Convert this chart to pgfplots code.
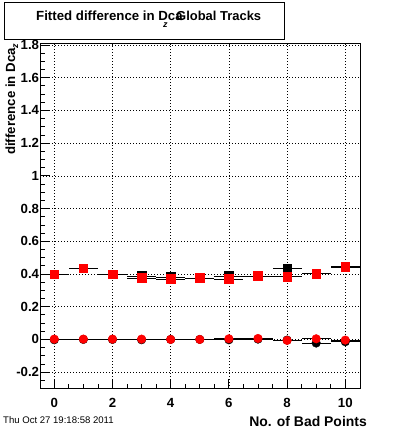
\documentclass[border=0pt]{standalone}
\usepackage{pgfplots}
\pgfplotsset{compat=1.18}
\usepackage{fontspec}
\setmainfont{Liberation Sans}
\definecolor{rootred}{RGB}{255,0,0}
\begin{document}
\begin{tikzpicture}[x=1bp,y=1bp]
\useasboundingbox (0,0) rectangle (400,433);
\begin{axis}[
  at={(40.3bp,44bp)}, anchor=south west,
  scale only axis, width=320.4bp, height=345.3bp,
  xmin=-0.48, xmax=10.53, ymin=-0.303, ymax=1.808,
  xtick={0,2,4,6,8,10},
  ytick={-0.2,0,0.2,0.4,0.6,0.8,1,1.2,1.4,1.6,1.8},
  yticklabels={-0.2,0,0.2,0.4,0.6,0.8,1,1.2,1.4,1.6,1.8},
  xticklabels={0,2,4,6,8,10},
  minor xtick={0.5,1,1.5,2.5,3,3.5,4.5,5,5.5,6.5,7,7.5,8.5,9,9.5},
  minor ytick={-0.3,-0.25,-0.15,-0.1,-0.05,0.05,0.1,0.15,0.25,0.3,0.35,0.45,0.5,0.55,0.65,0.7,0.75,0.85,0.9,0.95,1.05,1.1,1.15,1.25,1.3,1.35,1.45,1.5,1.55,1.65,1.7,1.75},
  xtick pos=left, ytick pos=left,
  tick align=inside,
  major tick length=9.5bp, minor tick length=5bp,
  tick style={black, line width=0.8bp},
  axis line style={line width=1bp},
  grid=major,
  major grid style={black, line width=0.7bp, dash pattern=on 0.8bp off 2.2bp},
  ticklabel style={font=\fontsize{13.3}{13.3}\selectfont\bfseries},
  xticklabel style={anchor=north, inner sep=0pt, yshift=-8.7bp},
  yticklabel style={anchor=east, inner sep=0pt, xshift=-1bp},
  clip=false,
]
% black squares
\addplot[only marks, mark=square*, mark size=4.3bp, black,
  error bars/.cd, x dir=both, x fixed=0.5, error mark=none,
  error bar style={black, line width=0.8bp}]
  coordinates {(0,0.400) (1,0.436) (2,0.400) (3,0.388) (4,0.382) (5,0.376) (6,0.388) (7,0.388) (8,0.436) (9,0.406) (10,0.442)};
% black circles
\addplot[only marks, mark=*, mark size=4.3bp, black,
  error bars/.cd, x dir=both, x fixed=0.5, error mark=none,
  error bar style={black, line width=0.8bp}]
  coordinates {(0,-0.002) (1,0.000) (2,0.000) (3,-0.002) (4,0.000) (5,0.000) (6,-0.002) (7,0.002) (8,-0.004) (9,-0.022) (10,-0.014)};
% red squares
\addplot[only marks, mark=square*, mark size=4.3bp, rootred,
  error bars/.cd, x dir=both, x fixed=0.5, error mark=none,
  error bar style={black, line width=0.8bp}]
  coordinates {(0,0.400) (1,0.436) (2,0.400) (3,0.376) (4,0.370) (5,0.376) (6,0.370) (7,0.388) (8,0.384) (9,0.402) (10,0.444)};
% red circles
\addplot[only marks, mark=*, mark size=4.3bp, rootred,
  error bars/.cd, x dir=both, x fixed=0.5, error mark=none,
  error bar style={black, line width=0.8bp}]
  coordinates {(0,0.002) (1,0.002) (2,0.002) (3,0.002) (4,0.000) (5,0.000) (6,0.004) (7,0.006) (8,-0.006) (9,0.004) (10,-0.004)};
\end{axis}
% title box
\draw[line width=1bp, fill=white] (4.7,430.3) rectangle (284.3,393.7);
\node[anchor=base west, inner sep=0pt, font=\fontsize{13.3}{13.3}\selectfont\bfseries] at (36,412.3) {Fitted difference in Dca};
\node[anchor=base west, inner sep=0pt, font=\fontsize{9}{9}\selectfont\bfseries\itshape] at (163,405) {z};
\node[anchor=base west, inner sep=0pt, font=\fontsize{13}{13}\selectfont\bfseries] at (176,412.3) {Global Tracks};
% y label
\node[anchor=base east, inner sep=0pt, rotate=90, font=\fontsize{13.3}{13.3}\selectfont\bfseries] at (15,389.5) {difference in Dca\raisebox{-3bp}{\fontsize{9}{9}\selectfont\itshape z}};
% x label
\node[anchor=base east, inner sep=0pt, font=\fontsize{14}{14}\selectfont\bfseries] at (367,6) {No. of Bad Points};
% date
\node[anchor=base west, inner sep=0pt, font=\fontsize{9.6}{9.6}\selectfont] at (3,9) {Thu Oct 27 19:18:58 2011};
\end{tikzpicture}
\end{document}
